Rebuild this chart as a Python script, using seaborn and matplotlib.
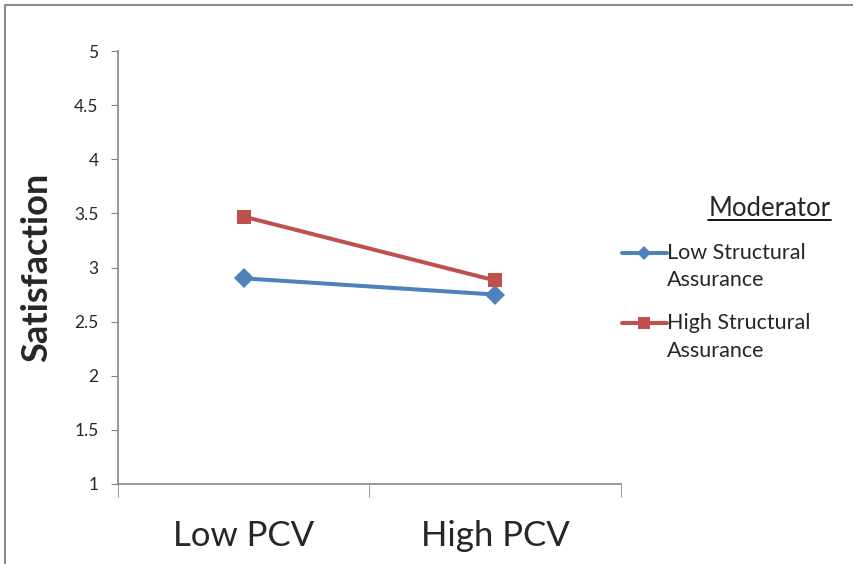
import matplotlib
matplotlib.use('Agg')
import matplotlib.pyplot as plt
import matplotlib.lines as mlines
import matplotlib.patches as mpatches
from matplotlib.legend_handler import HandlerLine2D
import seaborn as sns
import pandas as pd

# Dados
categorias = ['Low PCV', 'High PCV']
baixa_assurance = [2.90, 2.75]
alta_assurance = [3.47, 2.88]
nome_baixa = 'Low Structural\nAssurance'
nome_alta = 'High Structural\nAssurance'
y_ticks = [1, 1.5, 2, 2.5, 3, 3.5, 4, 4.5, 5]

df = pd.DataFrame({
    'PCV': categorias * 2,
    'Satisfaction': baixa_assurance + alta_assurance,
    'Moderator': [nome_baixa] * 2 + [nome_alta] * 2,
})

sns.set_style('white')
plt.rcParams['font.family'] = ['Lato', 'DejaVu Sans']

AZUL = '#4F81BD'
VERMELHO = '#C0504D'
CINZA = '#868686'


class HandlerPrimeiraLinha(HandlerLine2D):
    # coloca o simbolo da legenda na altura da primeira linha do texto
    # (o y da linha e (height - ydescent) / 2, por isso o deslocamento dobra)
    def create_artists(self, legend, orig_handle, xdescent, ydescent,
                       width, height, fontsize, trans):
        return super().create_artists(legend, orig_handle, xdescent,
                                      ydescent - 1.3 * fontsize, width, height,
                                      fontsize, trans)


fig = plt.figure(figsize=(8.54, 5.64), dpi=100)
ax = fig.add_axes([118 / 854, 80 / 564, (621 - 118) / 854, (484 - 51) / 564])

sns.lineplot(
    data=df, x='PCV', y='Satisfaction', hue='Moderator', style='Moderator',
    palette={nome_baixa: AZUL, nome_alta: VERMELHO},
    markers={nome_baixa: 'D', nome_alta: 's'},
    dashes=False, linewidth=2.9, markersize=10, markeredgewidth=0,
    sort=False, ax=ax, legend=False,
)

ax.set_xlim(-0.5, 1.5)
ax.set_ylim(1, 5)
ax.set_yticks(y_ticks)
ax.set_yticklabels([f'{v:g}' for v in y_ticks], fontsize=12.5)
ax.set_xticks([0, 1])
ax.set_xticklabels(categorias, fontsize=25)
ax.tick_params(axis='x', length=0, pad=26)
ax.tick_params(axis='y', length=5, color=CINZA, direction='out', left=True, pad=9)

# marcas do eixo x nas bordas das categorias (estilo Excel)
ax.set_xticks([-0.5, 0.5, 1.5], minor=True)
ax.tick_params(axis='x', which='minor', length=9, color=CINZA, direction='out', bottom=True)

for lado in ['top', 'right']:
    ax.spines[lado].set_visible(False)
for lado in ['left', 'bottom']:
    ax.spines[lado].set_color(CINZA)
    ax.spines[lado].set_linewidth(1.2)

ax.set_xlabel('')
ax.set_ylabel('Satisfaction', fontsize=26, fontweight='bold', labelpad=15)

# legenda
handles = [
    mlines.Line2D([], [], color=AZUL, marker='D', markersize=7, linewidth=2.9, markeredgewidth=0),
    mlines.Line2D([], [], color=VERMELHO, marker='s', markersize=8, linewidth=2.9, markeredgewidth=0),
]
leg = fig.legend(
    handles, [nome_baixa, nome_alta],
    loc='upper left', bbox_to_anchor=(613 / 854, 1 - 234 / 564),
    frameon=False, fontsize=15.5, handlelength=2.1, handletextpad=0.0,
    labelspacing=1.08, borderaxespad=0,
    handler_map={mlines.Line2D: HandlerPrimeiraLinha()},
)
for t in leg.get_texts():
    t.set_linespacing(1.46)

fig.text(770 / 854, 1 - 208 / 564, 'Moderator', fontsize=18.5, ha='center', va='center')
fig.add_artist(mlines.Line2D([708 / 854, 831 / 854], [1 - 220 / 564] * 2,
                             color='black', linewidth=1.3))

# moldura do grafico
fig.add_artist(mpatches.Rectangle((5 / 854, -0.1), 1.2, 1 - 5 / 564 + 0.1,
                                  fill=False, edgecolor='#8C8C8C', linewidth=1.5,
                                  transform=fig.transFigure))

fig.savefig('out.png', dpi=100)
plt.close()
